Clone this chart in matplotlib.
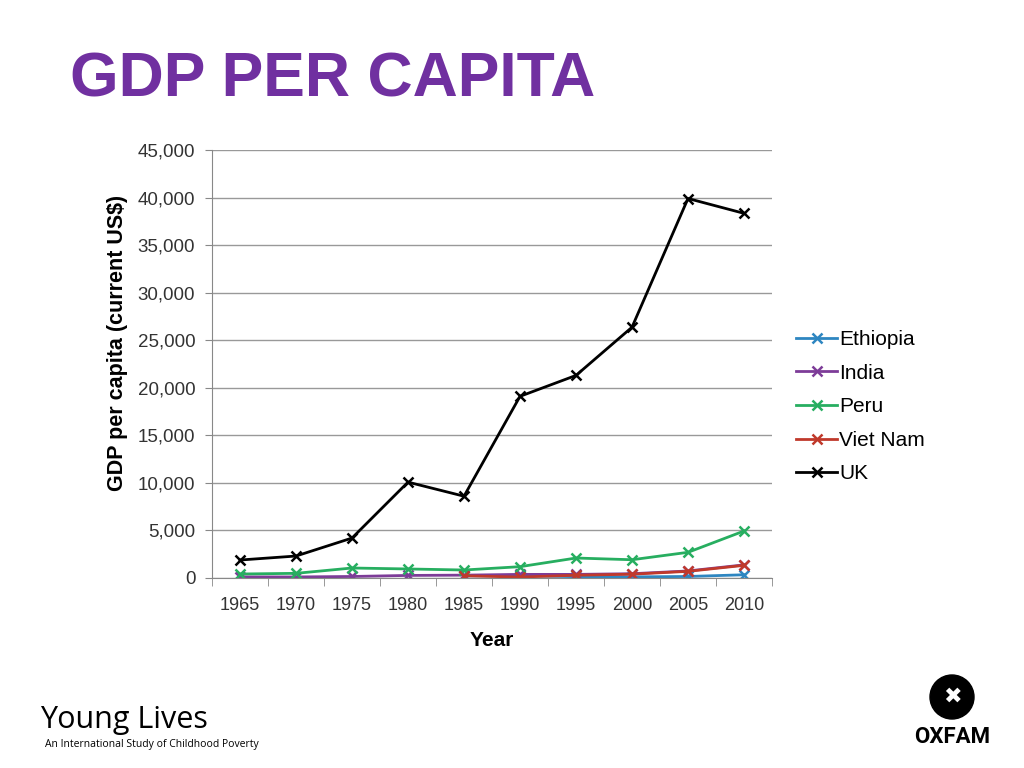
import numpy as np
import matplotlib.pyplot as plt
from matplotlib.patches import Ellipse

plt.rcParams['font.family'] = ['Liberation Sans', 'DejaVu Sans']

years = ['1965', '1970', '1975', '1980', '1985', '1990', '1995', '2000', '2005', '2010']
ethiopia = [None, None, None, None, 230, 250, 140, 120, 160, 340]
india = [120, 110, 160, 270, 300, 380, 380, 450, 740, 1380]
peru = [420, 490, 1050, 950, 840, 1190, 2100, 1920, 2700, 4940]
vietnam = [None, None, None, None, 230, 100, 290, 400, 700, 1330]
uk = [1890, 2310, 4200, 10080, 8600, 19100, 21300, 26370, 39900, 38340]

series = [('Ethiopia', ethiopia, '#2E86C1'),
          ('India', india, '#7D3C98'),
          ('Peru', peru, '#27AE60'),
          ('Viet Nam', vietnam, '#C0392B'),
          ('UK', uk, '#000000')]

fig = plt.figure(figsize=(10.24, 7.68), dpi=100)
ax = fig.add_axes([212 / 1024, 1 - 578 / 768, 560 / 1024, 428 / 768])

x = np.arange(len(years))
for name, vals, color in series:
    y = np.array([np.nan if v is None else v for v in vals], dtype=float)
    ax.plot(x, y, color=color, marker='x', markersize=7, markeredgewidth=1.8,
            linewidth=2, label=name)

ax.set_xlim(-0.5, len(years) - 0.5)
ax.set_ylim(0, 45000)
ax.set_yticks(np.arange(0, 45001, 5000))
ax.set_yticklabels(['{:,}'.format(v) for v in range(0, 45001, 5000)])
ax.set_xticks(x)
ax.set_xticklabels(years)
ax.set_xticks(np.arange(-0.5, len(years)), minor=True)
ax.tick_params(axis='x', which='major', length=0, pad=14, labelsize=13, labelcolor='#333333')
ax.tick_params(axis='x', which='minor', length=6, color='#888888', direction='out')
ax.tick_params(axis='y', length=5, color='#888888', labelsize=13.5, labelcolor='#333333', pad=7)
ax.grid(axis='y', color='#999999', linewidth=1)
ax.set_axisbelow(True)
for s in ['top', 'right']:
    ax.spines[s].set_visible(False)
for s in ['left', 'bottom']:
    ax.spines[s].set_color('#888888')

ax.set_xlabel('Year', fontsize=15, fontweight='bold', labelpad=12)
ax.set_ylabel('GDP per capita (current US$)', fontsize=15.5, fontweight='bold')
ax.yaxis.set_label_coords(-0.15, 0.549)

ax.legend(loc='center left', bbox_to_anchor=(1.01, 0.40), frameon=False,
          fontsize=15, handlelength=1.95, handletextpad=0.1, labelspacing=0.7)

fig.text(70 / 1024, 1 - 80 / 768, 'GDP PER CAPITA', color='#7030A0', fontsize=45,
         fontweight='bold', va='center', ha='left')

# footer logos
fig.text(40 / 1024, 1 - 720 / 768, 'Young Lives', fontsize=22, va='center', ha='left',
         family='Open Sans')
fig.text(45 / 1024, 1 - 745 / 768, 'An International Study of Childhood Poverty',
         fontsize=7.5, va='center', ha='left', family='Open Sans')
fig.patches.append(Ellipse((952 / 1024, 1 - 697 / 768), 44 / 1024, 44 / 768,
                           transform=fig.transFigure, color='black'))
fig.text(952 / 1024, 1 - 697 / 768, '\u2716', color='white', fontsize=16,
         ha='center', va='center', family='DejaVu Sans')
fig.text(952 / 1024, 1 - 737 / 768, 'OXFAM', fontsize=16, fontweight='bold',
         ha='center', va='center', family='Roboto')

fig.savefig('out.png', dpi=100)
